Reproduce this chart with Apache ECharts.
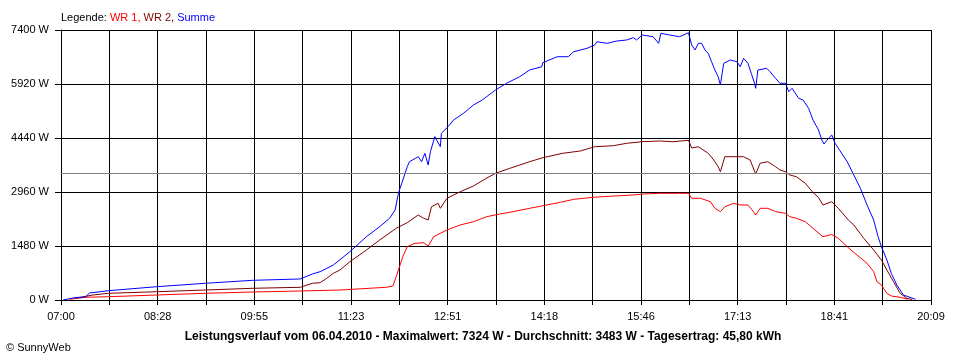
<!DOCTYPE html>
<html>
<head>
<meta charset="utf-8">
<script src="https://cdn.jsdelivr.net/npm/echarts@6/dist/echarts.min.js"></script>
<style>
html,body{margin:0;padding:0;background:#fff;}
#c{width:960px;height:360px;}
</style>
</head>
<body>
<div id="c"></div>
<script>
// ---- Data ----
const xTickLabels = ["07:00","08:28","09:55","11:23","12:51","14:18","15:46","17:13","18:41","20:09"];
const yMax = 7400;
const yStep = 1480;
const average = 3483;

const wr1Times = ["07:08","07:22","07:43","08:27","09:11","09:54","10:37","11:13","11:55","12:01","12:04","12:07","12:10","12:14","12:21","12:29","12:33","12:38","12:44","12:50","13:02","13:14","13:26","13:38","13:50","14:05","14:17","14:33","14:45","15:03","15:21","15:39","15:48","16:03","16:21","16:29","16:32","16:40","16:49","16:53","16:58","17:02","17:10","17:16","17:23","17:28","17:30","17:34","17:41","17:48","17:57","18:01","18:07","18:15","18:22","18:31","18:39","18:45","18:53","19:00","19:11","19:17","19:20","19:24","19:29","19:33","19:41","19:48"];
const wr1Values = [19,74,90,137,184,219,247,274,348,384,639,913,1187,1461,1554,1570,1480,1735,1828,1918,2056,2146,2283,2357,2420,2513,2584,2678,2760,2815,2850,2878,2905,2924,2924,2924,2787,2787,2694,2513,2420,2557,2650,2604,2604,2420,2330,2513,2513,2420,2376,2283,2239,2146,1965,1735,1795,1691,1461,1280,1006,776,502,411,184,110,74,19];

const wr2Times = ["07:13","07:29","07:43","08:27","09:11","09:54","10:37","10:48","10:55","11:01","11:07","11:13","11:22","11:37","11:49","12:04","12:14","12:24","12:29","12:33","12:36","12:42","12:44","12:50","13:02","13:14","13:23","13:34","13:47","14:05","14:17","14:35","14:51","15:04","15:21","15:33","15:47","16:03","16:15","16:29","16:32","16:38","16:47","16:52","16:56","16:58","17:02","17:10","17:19","17:25","17:30","17:34","17:41","17:48","17:52","17:57","18:01","18:07","18:15","18:22","18:27","18:31","18:39","18:45","18:54","18:59","19:08","19:17","19:24","19:29","19:35","19:41","19:47","19:52"];
const wr2Values = [47,137,184,227,274,321,348,458,474,595,732,822,1050,1370,1644,1965,2119,2330,2239,2193,2557,2650,2513,2787,2968,3124,3289,3473,3609,3790,3900,4021,4084,4201,4229,4295,4338,4358,4338,4377,4166,4201,4021,3837,3653,3516,3927,3927,3927,3837,3453,3747,3790,3653,3563,3516,3426,3379,3198,2946,2809,2604,2694,2513,2193,2056,1691,1370,1096,822,502,184,47,14];

const sumTimes = ["07:02","07:13","07:22","07:26","07:43","08:27","09:11","09:54","10:37","10:48","10:55","11:07","11:22","11:37","11:49","11:58","12:03","12:06","12:09","12:14","12:16","12:24","12:27","12:30","12:33","12:35","12:39","12:44","12:45","12:51","12:56","13:05","13:14","13:22","13:34","13:44","13:56","14:05","14:16","14:17","14:30","14:40","14:45","14:57","15:04","15:06","15:15","15:24","15:33","15:39","15:42","15:47","15:57","16:02","16:04","16:12","16:21","16:29","16:32","16:35","16:38","16:41","16:44","16:47","16:50","16:53","16:56","16:58","17:01","17:07","17:13","17:16","17:19","17:23","17:26","17:29","17:30","17:32","17:40","17:43","17:48","17:52","17:57","18:00","18:03","18:09","18:13","18:18","18:22","18:27","18:30","18:32","18:36","18:39","18:42","18:46","18:53","18:59","19:05","19:11","19:17","19:21","19:24","19:29","19:33","19:38","19:44","19:55"];
const sumValues = [0,69,82,192,255,365,458,540,576,713,776,959,1324,1735,2009,2239,2467,2924,3198,3653,3790,3927,3790,4021,3700,4064,4476,4201,4569,4750,4933,5117,5344,5481,5755,5939,6120,6304,6394,6504,6668,6668,6805,6898,6989,7079,7035,7098,7126,7189,7126,7263,7216,7035,7309,7263,7216,7324,6989,6852,7035,7035,6852,6761,6531,6304,6120,5893,6487,6578,6531,6394,6624,6487,6213,5939,5802,6304,6350,6257,6076,5939,5939,5709,5802,5528,5481,5254,4933,4659,4385,4275,4432,4522,4295,4111,3790,3426,3061,2604,2193,1735,1461,1096,732,411,137,19];

const legendText = ["Legende: ", "WR 1", "WR 2", "Summe"];
const footerText = "Leistungsverlauf vom 06.04.2010 - Maximalwert: 7324 W - Durchschnitt: 3483 W - Tagesertrag: 45,80 kWh";
const copyrightText = "\u00A9 SunnyWeb";

// ---- Axis helpers ----
const startMin = 7 * 60;
const endMin = 20 * 60 + 9;
const halfStep = (endMin - startMin) / 18;
function toX(t) {
  const p = t.split(":");
  return (parseInt(p[0], 10) * 60 + parseInt(p[1], 10) - startMin) / halfStep;
}
function pairs(times, vals) { return times.map((t, i) => [toX(t), vals[i]]); }

const FONT = "Liberation Sans";
const chart = echarts.init(document.getElementById("c"), null, { renderer: "canvas" });
chart.setOption({
  backgroundColor: "#ffffff",
  animation: false,
  title: [
    {
      left: 56, top: 7,
      text: "{k|" + legendText[0] + "}{a|" + legendText[1] + ", }{b|" + legendText[2] + ", }{c|" + legendText[3] + "}",
      textStyle: {
        fontWeight: "normal", fontFamily: FONT, fontSize: 11,
        rich: {
          k: { color: "#000000", fontFamily: FONT, fontSize: 11, fontWeight: "normal" },
          a: { color: "#ff0000", fontFamily: FONT, fontSize: 11, fontWeight: "normal" },
          b: { color: "#800000", fontFamily: FONT, fontSize: 11, fontWeight: "normal" },
          c: { color: "#0000ff", fontFamily: FONT, fontSize: 11, fontWeight: "normal" }
        }
      }
    },
    {
      left: 478, textAlign: "center", top: 326,
      text: footerText,
      textStyle: { color: "#000000", fontFamily: FONT, fontSize: 12, fontWeight: "bold" }
    },
    {
      left: 1, top: 337,
      text: copyrightText,
      textStyle: { color: "#000000", fontFamily: FONT, fontSize: 11, fontWeight: "normal" }
    }
  ],
  grid: { left: 61, right: 29, top: 30, bottom: 60, containLabel: false },
  xAxis: {
    type: "value", min: 0, max: 18, interval: 1,
    axisLine: { show: true, lineStyle: { color: "#000", width: 1 } },
    axisTick: { show: true, length: 5, lineStyle: { color: "#000" } },
    splitLine: { show: true, lineStyle: { color: "#000", width: 1 } },
    axisLabel: {
      color: "#000", fontFamily: FONT, fontSize: 11, margin: 11,
      formatter: function (v) {
        const i = Math.round(v);
        return i % 2 === 0 ? xTickLabels[i / 2] : "";
      }
    }
  },
  yAxis: {
    type: "value", min: 0, max: yMax, interval: yStep,
    axisLine: { show: true, lineStyle: { color: "#000", width: 1 } },
    axisTick: { show: true, length: 6, lineStyle: { color: "#000" } },
    splitLine: { show: true, lineStyle: { color: "#000", width: 1 } },
    axisLabel: {
      color: "#000", fontFamily: FONT, fontSize: 11, margin: 12,
      formatter: function (v) { return v + " W"; }
    }
  },
  series: [
    {
      name: "WR 1", type: "line", data: pairs(wr1Times, wr1Values),
      showSymbol: false, lineStyle: { color: "#ff0000", width: 1 }, itemStyle: { color: "#ff0000" },
      z: 3
    },
    {
      name: "WR 2", type: "line", data: pairs(wr2Times, wr2Values),
      showSymbol: false, lineStyle: { color: "#800000", width: 1 }, itemStyle: { color: "#800000" },
      z: 3
    },
    {
      name: "Summe", type: "line", data: pairs(sumTimes, sumValues),
      showSymbol: false, lineStyle: { color: "#0000ff", width: 1 }, itemStyle: { color: "#0000ff" },
      z: 3,
      markLine: {
        silent: true, symbol: "none", label: { show: false },
        lineStyle: { color: "#808080", width: 1, type: "solid" },
        data: [{ yAxis: average }]
      }
    }
  ]
});
</script>
</body>
</html>
